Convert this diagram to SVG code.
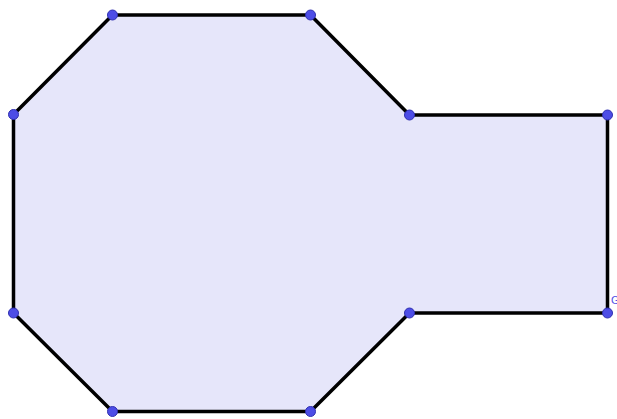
<svg xmlns="http://www.w3.org/2000/svg" width="617" height="419" viewBox="0 0 617 419">
<style>
.poly{fill:#e6e6fa;stroke:#000;stroke-width:3.5;stroke-linejoin:round}
.pt{fill:#4d4de6;stroke:#2f2fb0;stroke-width:1}
.lbl{font-family:"Liberation Sans",Arial,sans-serif;font-size:11px;fill:#4d4de6}
</style>
<rect width="617" height="419" fill="#fff"/>
<g id="shape">
<polygon class="poly" points="112.5,15 310.5,15 409.5,115 607.5,115 607.5,313 409.5,313 310.5,411.5 112.5,411.5 13.5,313 13.5,114.5"/>
</g>
<g id="points">
<circle class="pt" cx="112.5" cy="15" r="5"/>
<circle class="pt" cx="310.5" cy="15" r="5"/>
<circle class="pt" cx="409.5" cy="115" r="5"/>
<circle class="pt" cx="607.5" cy="115" r="5"/>
<circle class="pt" cx="607.5" cy="313" r="5"/>
<circle class="pt" cx="409.5" cy="313" r="5"/>
<circle class="pt" cx="310.5" cy="411.5" r="5"/>
<circle class="pt" cx="112.5" cy="411.5" r="5"/>
<circle class="pt" cx="13.5" cy="313" r="5"/>
<circle class="pt" cx="13.5" cy="114.5" r="5"/>
</g>
<text class="lbl" x="611" y="304">G</text>
</svg>
